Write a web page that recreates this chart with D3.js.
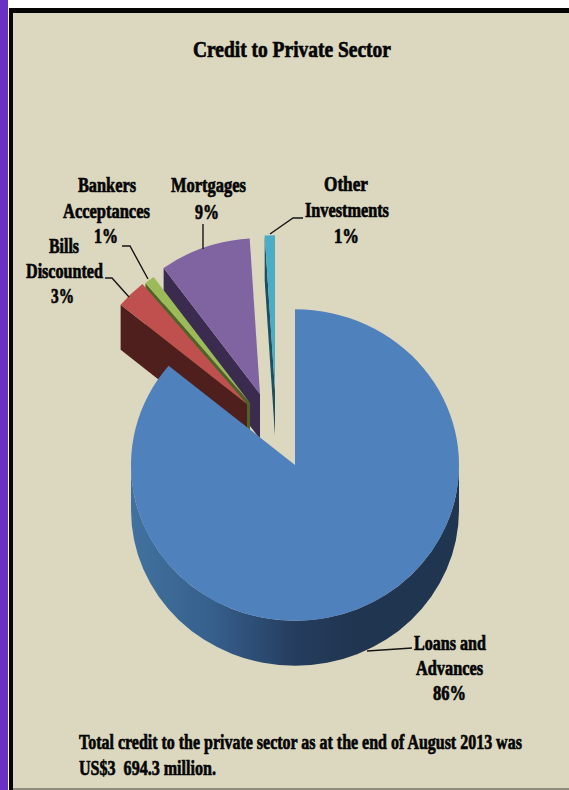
<!DOCTYPE html>
<html>
<head>
<meta charset="utf-8">
<script src="https://cdn.jsdelivr.net/npm/d3@7"></script>
<style>
html, body { margin: 0; padding: 0; background: #fff; }
svg { display: block; }
text { font-family: "Liberation Serif", serif; font-weight: bold; fill: #050505; stroke: #050505; stroke-width: 0.7px; white-space: pre; }
</style>
</head>
<body>
<svg id="chart" width="569" height="790"></svg>
<script>
// Shares of credit to the private sector, in pie order (clockwise from twelve o'clock).
const categories = ["Loans and Advances", "Bills Discounted", "Bankers Acceptances", "Mortgages", "Other Investments"];
const shares = [86, 3, 1, 9, 1];
const topColors = ["#4f81bd", "#c0504d", "#9bbb59", "#8064a2", "#4bacc6"];
const wallColors = ["#1f3550", "#4e1f1d", "#4f6228", "#3a2b4f", "#1c4f60"];
const titleText = "Credit to Private Sector";
const footerLines = ["Total credit to the private sector as at the end of August 2013 was", "US$3  694.3 million."];

// Pulled-out distance of each slice from the pie centre.
const shiftX = [0, -48, -45, -35, -20];
const shiftY = [0, -61, -62, -71, -74];

const W = 569, H = 790;
const cx = 295, cy = 465, radius = 164, squash = 0.95, depth = 45;
const svg = d3.select("#chart");

// Frame
svg.append("rect").attr("width", W).attr("height", H).attr("fill", "#ffffff");
svg.append("rect").attr("x", 0).attr("y", 0).attr("width", 8).attr("height", H).attr("fill", "#6a30c6");
svg.append("rect").attr("x", 9).attr("y", 8).attr("width", W - 9).attr("height", H - 8).attr("fill", "#050505");
svg.append("rect").attr("x", 13).attr("y", 13).attr("width", W - 13).attr("height", H - 15).attr("fill", "#dcd8c0");
svg.append("rect").attr("x", 13).attr("y", 788).attr("width", W - 13).attr("height", 2).attr("fill", "#8f8d7d");

const defs = svg.append("defs");
const wallGrad = defs.append("linearGradient").attr("id", "wallShade")
  .attr("gradientUnits", "userSpaceOnUse")
  .attr("x1", cx - radius).attr("x2", cx + radius).attr("y1", 0).attr("y2", 0);
[[0, "#41729f"], [0.25, "#365f8c"], [0.5, "#253d5e"], [0.68, "#1f3550"], [1, "#1f3550"]]
  .forEach(([o, c]) => wallGrad.append("stop").attr("offset", o).attr("stop-color", c));

// Pie layout
const pie = d3.pie().sort(null).value(d => d.share).startAngle(0).endAngle(2 * Math.PI);
const slices = pie(categories.map((name, i) => ({
  name, share: shares[i], top: topColors[i], wall: wallColors[i], dx: shiftX[i], dy: shiftY[i]
})));
const arc = d3.arc().innerRadius(0).outerRadius(radius);
const rimPoint = a => [radius * Math.sin(a), -radius * squash * Math.cos(a)];

// Pulled-out slices painted from the back (right) to the front (left); the large one goes last
const chart = svg.append("g");
slices.slice(1).reverse().forEach(s => {
  const g = chart.append("g").attr("transform", `translate(${cx + s.data.dx},${cy + s.data.dy})`);
  const [rx, ry] = rimPoint(s.startAngle);
  // Cut face along the slice's leading radius
  g.append("path")
    .attr("d", d3.line()([[0, 0], [rx, ry], [rx, ry + depth], [0, depth]]) + "Z")
    .attr("fill", s.data.wall);
  g.append("path")
    .attr("transform", `scale(1,${squash})`)
    .attr("d", arc(s))
    .attr("fill", s.data.top);
});

// Large slice: outer wall below the rim, then the top face
const main = slices[0];
const ellipseY = radius * squash;
chart.append("path")
  .attr("d", `M${cx + radius},${cy}A${radius},${ellipseY} 0 0 1 ${cx - radius},${cy}` +
             `V${cy + depth}A${radius},${ellipseY} 0 0 0 ${cx + radius},${cy + depth}Z`)
  .attr("fill", "url(#wallShade)");
chart.append("path")
  .attr("transform", `translate(${cx},${cy}) scale(1,${squash})`)
  .attr("d", arc(main))
  .attr("fill", main.data.top);

// Leader lines
const leaders = [
  [[367, 651], [412, 648]],
  [[105, 278], [112, 278], [129, 297]],
  [[122, 246], [130, 246], [148, 279]],
  [[203, 224], [203, 249]],
  [[270, 234], [293, 218], [303, 218]]
];
svg.append("g").selectAll("path").data(leaders).join("path")
  .attr("d", d3.line())
  .attr("fill", "none").attr("stroke", "#151515").attr("stroke-width", 1.4);

// Text: each line is condensed horizontally to span its given width
function put(str, left, baseline, size, width) {
  const t = svg.append("text").attr("font-size", size).text(str);
  const natural = t.node().getComputedTextLength();
  t.attr("transform", `translate(${left},${baseline}) scale(${width / natural},1)`);
}
put(titleText, 193, 57, 24, 198);
put("Bankers", 78, 192, 21, 58);
put("Acceptances", 63, 218, 21, 87);
put("1%", 94, 243, 21, 24);
put("Bills", 49, 253, 21, 30);
put("Discounted", 26, 278, 21, 77);
put("3%", 51, 303, 21, 23);
put("Mortgages", 171, 192, 21, 75);
put("9%", 195, 219, 21, 24);
put("Other", 324, 191, 21, 44);
put("Investments", 305, 217, 21, 84);
put("1%", 334, 243, 21, 25);
put("Loans and", 414, 650, 21, 72);
put("Advances", 416, 675, 21, 67);
put("86%", 433, 700, 21, 33);
put(footerLines[0], 79, 749, 22, 443);
put(footerLines[1], 79, 775, 22, 137);
</script>
</body>
</html>
